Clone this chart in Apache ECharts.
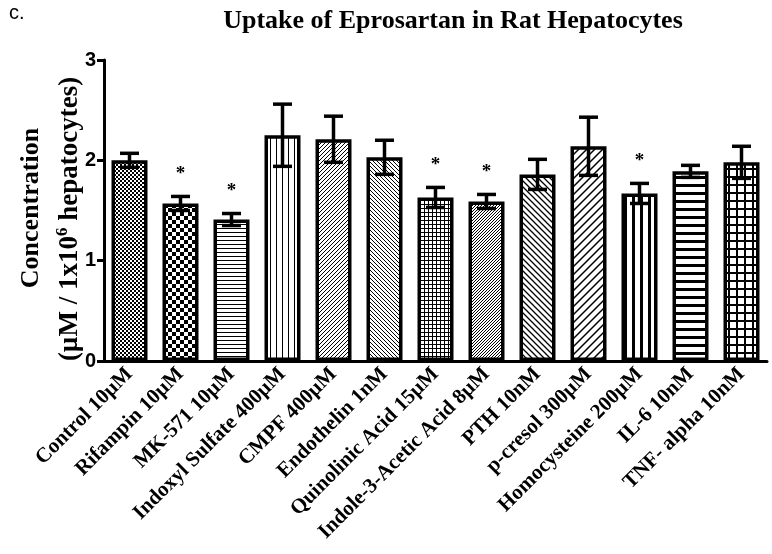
<!DOCTYPE html>
<html>
<head>
<meta charset="utf-8">
<script src="https://cdn.jsdelivr.net/npm/echarts@6/dist/echarts.min.js"></script>
<style>html,body{margin:0;padding:0;background:#fff}#c{width:772px;height:554px}</style>
</head>
<body>
<div id="c"></div>
<script>
const categories = ['Control 10µM','Rifampin 10µM','MK-571 10µM','Indoxyl Sulfate 400µM','CMPF 400µM','Endothelin 1nM','Quinolinic Acid 15µM','Indole-3-Acetic Acid 8µM','PTH 10nM','p-cresol 300µM','Homocysteine 200µM','IL-6 10nM','TNF- alpha 10nM'];
const means  = [2.00, 1.57, 1.41, 2.25, 2.21, 2.03, 1.63, 1.59, 1.86, 2.14, 1.67, 1.89, 1.98];
const errors = [0.07, 0.07, 0.06, 0.31, 0.23, 0.17, 0.10, 0.07, 0.15, 0.29, 0.10, 0.06, 0.16];
const significant = [0, 1, 1, 0, 0, 0, 1, 1, 0, 0, 1, 0, 0];
const yTicks = [0, 1, 2, 3];

function tile(size, draw) {
  const c = document.createElement('canvas');
  c.width = size; c.height = size;
  const g = c.getContext('2d');
  g.fillStyle = '#fff'; g.fillRect(0, 0, size, size);
  g.fillStyle = '#000'; g.strokeStyle = '#000';
  draw(g, size);
  return { image: c, repeat: 'repeat' };
}
function checker(s) {
  return tile(s * 2, (g) => { g.fillRect(0, 0, s, s); g.fillRect(s, s, s, s); });
}
function hlines(s, w) { return tile(s, (g) => g.fillRect(0, 0, s, w)); }
function vlines(s, w) { return tile(s, (g) => g.fillRect(0, 0, w, s)); }
function grid(s, w) { return tile(s, (g) => { g.fillRect(0, 0, s, w); g.fillRect(0, 0, w, s); }); }
function diag(s, w, dir) {
  return tile(s, (g, n) => {
    g.lineWidth = w;
    g.beginPath();
    if (dir > 0) {
      g.moveTo(-1, n + 1); g.lineTo(n + 1, -1);
      g.moveTo(-1, 1); g.lineTo(1, -1);
      g.moveTo(n - 1, n + 1); g.lineTo(n + 1, n - 1);
    } else {
      g.moveTo(-1, -1); g.lineTo(n + 1, n + 1);
      g.moveTo(n - 1, -1); g.lineTo(n + 1, 1);
      g.moveTo(-1, n - 1); g.lineTo(1, n + 1);
    }
    g.stroke();
  });
}
const patterns = [
  checker(2), checker(4), hlines(4, 1), vlines(6, 1), diag(4, 1, 1), diag(4, 1, -1),
  grid(4, 1), diag(3, 1, 1), diag(6, 1.3, -1), diag(8, 1.5, 1), vlines(8, 3), hlines(8, 3), grid(8, 2)
];

const chart = echarts.init(document.getElementById('c'), null, { renderer: 'canvas' });
const serif = '"Liberation Serif", "Times New Roman", serif';
const sans = '"Liberation Sans", Arial, sans-serif';

chart.setOption({
  animation: false,
  backgroundColor: '#fff',
  grid: { left: 104, right: 5, top: 60, bottom: 193 },
  xAxis: {
    type: 'category',
    data: categories,
    axisLine: { lineStyle: { color: '#000', width: 3 } },
    axisTick: { alignWithLabel: true, length: 6, lineStyle: { color: '#000', width: 2.5 } },
    axisLabel: { rotate: 45, interval: 0, margin: 10, color: '#000', fontFamily: serif, fontWeight: 'bold', fontSize: 21 }
  },
  yAxis: {
    type: 'value', min: 0, max: 3, interval: 1,
    splitLine: { show: false },
    axisLine: { show: true, lineStyle: { color: '#000', width: 3 } },
    axisTick: { show: true, length: 7, lineStyle: { color: '#000', width: 3 } },
    axisLabel: { color: '#000', fontFamily: sans, fontWeight: 'bold', fontSize: 20, margin: 8,
      formatter: (v) => yTicks.includes(v) ? String(v) : '' }
  },
  graphic: [
    { type: 'text', left: 9, top: 3, style: { text: 'c.', font: '20px ' + sans, fill: '#000' } },
    { type: 'text', x: 453, y: 21, style: { text: 'Uptake of Eprosartan in Rat Hepatocytes', font: 'bold 26px ' + serif, fill: '#000', align: 'center', verticalAlign: 'middle' } },
    { type: 'text', x: 31, y: 208, rotation: Math.PI / 2,
      style: { text: 'Concentration', font: 'bold 26px ' + serif, fill: '#000', align: 'center', verticalAlign: 'middle' } },
    { type: 'text', x: 69, y: 219, rotation: Math.PI / 2,
      style: {
        text: '{n|(µM / 1x10}{s|6}{n| hepatocytes)}',
        align: 'center', verticalAlign: 'middle',
        rich: {
          n: { font: 'bold 27px ' + serif, fill: '#000', verticalAlign: 'bottom', lineHeight: 30 },
          s: { font: 'bold 17px ' + serif, fill: '#000', verticalAlign: 'top', lineHeight: 30 }
        }
      } }
  ],
  series: [
    {
      type: 'bar',
      barWidth: 36,
      data: means.map((v, i) => ({ value: v, itemStyle: { color: patterns[i], borderColor: '#000', borderWidth: 3.5 } })),
      z: 2
    },
    {
      type: 'custom',
      z: 3,
      data: means.map((v, i) => [i, v, errors[i], significant[i]]),
      renderItem: (params, api) => {
        const i = api.value(0), m = api.value(1), e = api.value(2), s = api.value(3);
        const top = api.coord([i, m + e]);
        const bot = api.coord([i, m - e]);
        const hw = 9.5;
        const st = { stroke: '#000', lineWidth: 3.5 };
        const children = [
          { type: 'line', shape: { x1: top[0], y1: top[1], x2: bot[0], y2: bot[1] }, style: st },
          { type: 'line', shape: { x1: top[0] - hw, y1: top[1], x2: top[0] + hw, y2: top[1] }, style: st },
          { type: 'line', shape: { x1: bot[0] - hw, y1: bot[1], x2: bot[0] + hw, y2: bot[1] }, style: st }
        ];
        if (s) {
          children.push({ type: 'text', x: top[0], y: top[1] - 22,
            style: { text: '*', font: 'bold 19px ' + serif, fill: '#000', align: 'center', verticalAlign: 'middle' } });
        }
        return { type: 'group', children };
      }
    }
  ]
});
</script>
</body>
</html>
